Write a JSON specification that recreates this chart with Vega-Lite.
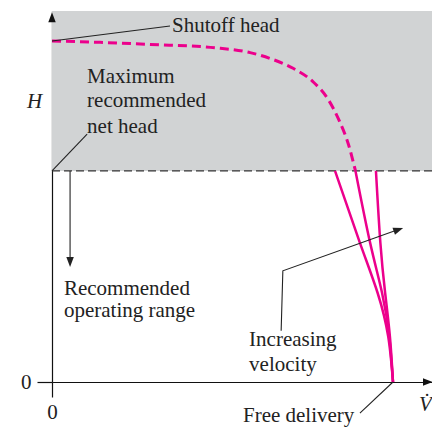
{
  "$schema": "https://vega.github.io/schema/vega-lite/v6.json",
  "width": 380,
  "height": 371,
  "padding": {"left": 52, "top": 11, "right": 0, "bottom": 45},
  "autosize": "none",
  "config": {"view": {"stroke": null}, "font": "Liberation Serif, Times New Roman, serif"},
  "datasets": {
    "curves": [
      {"series": "dashed", "o": 0, "V": 0, "H": 100},
      {"series": "dashed", "o": 1, "V": 14.1, "H": 99.6},
      {"series": "dashed", "o": 2, "V": 28.7, "H": 99.0},
      {"series": "dashed", "o": 3, "V": 48.1, "H": 98.0},
      {"series": "dashed", "o": 4, "V": 58.1, "H": 96.6},
      {"series": "dashed", "o": 5, "V": 63.9, "H": 94.9},
      {"series": "dashed", "o": 6, "V": 70.7, "H": 92.0},
      {"series": "dashed", "o": 7, "V": 76.5, "H": 88.1},
      {"series": "dashed", "o": 8, "V": 81.1, "H": 82.7},
      {"series": "dashed", "o": 9, "V": 84.3, "H": 76.5},
      {"series": "dashed", "o": 10, "V": 86.9, "H": 69.8},
      {"series": "dashed", "o": 11, "V": 89.0, "H": 61.9},
      {"series": "low", "o": 0, "V": 83.0, "H": 61.9},
      {"series": "low", "o": 1, "V": 90.3, "H": 40.8},
      {"series": "low", "o": 2, "V": 95.5, "H": 26.1},
      {"series": "low", "o": 3, "V": 98.6, "H": 13.3},
      {"series": "low", "o": 4, "V": 100, "H": 0},
      {"series": "mid", "o": 0, "V": 89.0, "H": 61.9},
      {"series": "mid", "o": 1, "V": 93.3, "H": 40.8},
      {"series": "mid", "o": 2, "V": 96.8, "H": 26.1},
      {"series": "mid", "o": 3, "V": 98.9, "H": 13.3},
      {"series": "mid", "o": 4, "V": 100, "H": 0},
      {"series": "high", "o": 0, "V": 95.0, "H": 61.9},
      {"series": "high", "o": 1, "V": 96.3, "H": 40.8},
      {"series": "high", "o": 2, "V": 97.7, "H": 26.1},
      {"series": "high", "o": 3, "V": 99.1, "H": 13.3},
      {"series": "high", "o": 4, "V": 100, "H": 0}
    ],
    "leaders": [
      {"id": "shutoff", "o": 0, "V": 0, "H": 100},
      {"id": "shutoff", "o": 1, "V": 34.6, "H": 104.4},
      {"id": "maxhead", "o": 0, "V": 0, "H": 61.9},
      {"id": "maxhead", "o": 1, "V": 10.3, "H": 72.7},
      {"id": "down", "o": 0, "V": 5.3, "H": 61.9},
      {"id": "down", "o": 1, "V": 5.3, "H": 35.5},
      {"id": "velocity", "o": 0, "V": 67.2, "H": 15.0},
      {"id": "velocity", "o": 1, "V": 67.7, "H": 32.6},
      {"id": "velocity", "o": 2, "V": 101.6, "H": 44.7},
      {"id": "free", "o": 0, "V": 100, "H": 0},
      {"id": "free", "o": 1, "V": 90.3, "H": -9.1}
    ],
    "labels": [
      {"label": "Shutoff head", "V": 35.2, "H": 102.6},
      {"label": "Maximum", "V": 10.3, "H": 87.8},
      {"label": "recommended", "V": 10.3, "H": 80.6},
      {"label": "net head", "V": 10.3, "H": 73.1},
      {"label": "Recommended", "V": 3.5, "H": 25.6},
      {"label": "operating range", "V": 3.5, "H": 19.1},
      {"label": "Increasing", "V": 57.8, "H": 10.6},
      {"label": "velocity", "V": 57.8, "H": 3.3},
      {"label": "Free delivery", "V": 56.0, "H": -11.7}
    ],
    "symbols": [
      {"label": "H", "V": -7.3, "H": 80.4},
      {"label": "V̇", "V": 107.6, "H": -8.5}
    ]
  },
  "encoding": {
    "x": {
      "field": "V", "type": "quantitative",
      "scale": {"domain": [0, 111.44], "nice": false, "zero": false},
      "axis": {"values": [0], "title": null, "grid": false, "domainColor": "#111", "domainWidth": 1.2, "tickColor": "#111", "tickWidth": 1.2, "tickSize": 15, "labelFontSize": 21, "labelColor": "#222", "labelFont": "Liberation Serif, Times New Roman, serif", "labelPadding": 4, "labelFlush": false}
    },
    "y": {
      "field": "H", "type": "quantitative",
      "scale": {"domain": [0, 108.8], "nice": false, "zero": false},
      "axis": {"values": [0], "title": null, "grid": false, "domainColor": "#111", "domainWidth": 1.2, "tickColor": "#111", "tickWidth": 1.2, "tickSize": 15, "labelFontSize": 21, "labelColor": "#222", "labelFont": "Liberation Serif, Times New Roman, serif", "labelPadding": 6, "labelFlush": false}
    }
  },
  "layer": [
    {
      "data": {"values": [{"V": 0, "V2": 111.44, "H": 61.9, "H2": 108.8}]},
      "mark": {"type": "rect", "color": "#d1d3d4"},
      "encoding": {"x2": {"field": "V2"}, "y2": {"field": "H2"}}
    },
    {
      "data": {"values": [{"V": 0, "H": 61.9}, {"V": 111.44, "H": 61.9}]},
      "mark": {"type": "line", "color": "#333", "strokeWidth": 1.3, "strokeDash": [8, 4]}
    },
    {
      "data": {"name": "curves"},
      "transform": [{"filter": "datum.series === 'dashed'"}],
      "mark": {"type": "line", "color": "#ec008c", "strokeWidth": 3, "strokeDash": [9, 5], "interpolate": "monotone"},
      "encoding": {"order": {"field": "o"}}
    },
    {
      "data": {"name": "curves"},
      "transform": [{"filter": "datum.series !== 'dashed'"}],
      "mark": {"type": "line", "color": "#ec008c", "strokeWidth": 2.5, "interpolate": "natural"},
      "encoding": {"detail": {"field": "series"}, "order": {"field": "o"}}
    },
    {
      "data": {"name": "leaders"},
      "mark": {"type": "line", "color": "#222", "strokeWidth": 1.1},
      "encoding": {"detail": {"field": "id"}, "order": {"field": "o"}}
    },
    {
      "data": {"values": [{"V": 0, "H": 107.0}]},
      "mark": {"type": "point", "shape": "M0,-1L0.75,1L-0.75,1Z", "size": 100, "filled": true, "color": "#111", "opacity": 1, "angle": 0}
    },
    {
      "data": {"values": [{"V": 110.26, "H": 0}]},
      "mark": {"type": "point", "shape": "M0,-1L0.75,1L-0.75,1Z", "size": 100, "filled": true, "color": "#111", "opacity": 1, "angle": 90}
    },
    {
      "data": {"values": [{"V": 5.3, "H": 35.2}]},
      "mark": {"type": "point", "shape": "M0,-1L0.75,1L-0.75,1Z", "size": 100, "filled": true, "color": "#222", "opacity": 1, "angle": 180}
    },
    {
      "data": {"values": [{"V": 101.6, "H": 44.7}]},
      "mark": {"type": "point", "shape": "M0,-1L0.75,1L-0.75,1Z", "size": 100, "filled": true, "color": "#222", "opacity": 1, "angle": 70.3}
    },
    {
      "data": {"name": "labels"},
      "mark": {"type": "text", "align": "left", "baseline": "alphabetic", "fontSize": 21, "color": "#222", "font": "Liberation Serif, Times New Roman, serif"},
      "encoding": {"text": {"field": "label"}}
    },
    {
      "data": {"name": "symbols"},
      "mark": {"type": "text", "align": "left", "baseline": "alphabetic", "fontSize": 21, "fontStyle": "italic", "color": "#222", "font": "Liberation Serif, Times New Roman, serif"},
      "encoding": {"text": {"field": "label"}}
    }
  ]
}
